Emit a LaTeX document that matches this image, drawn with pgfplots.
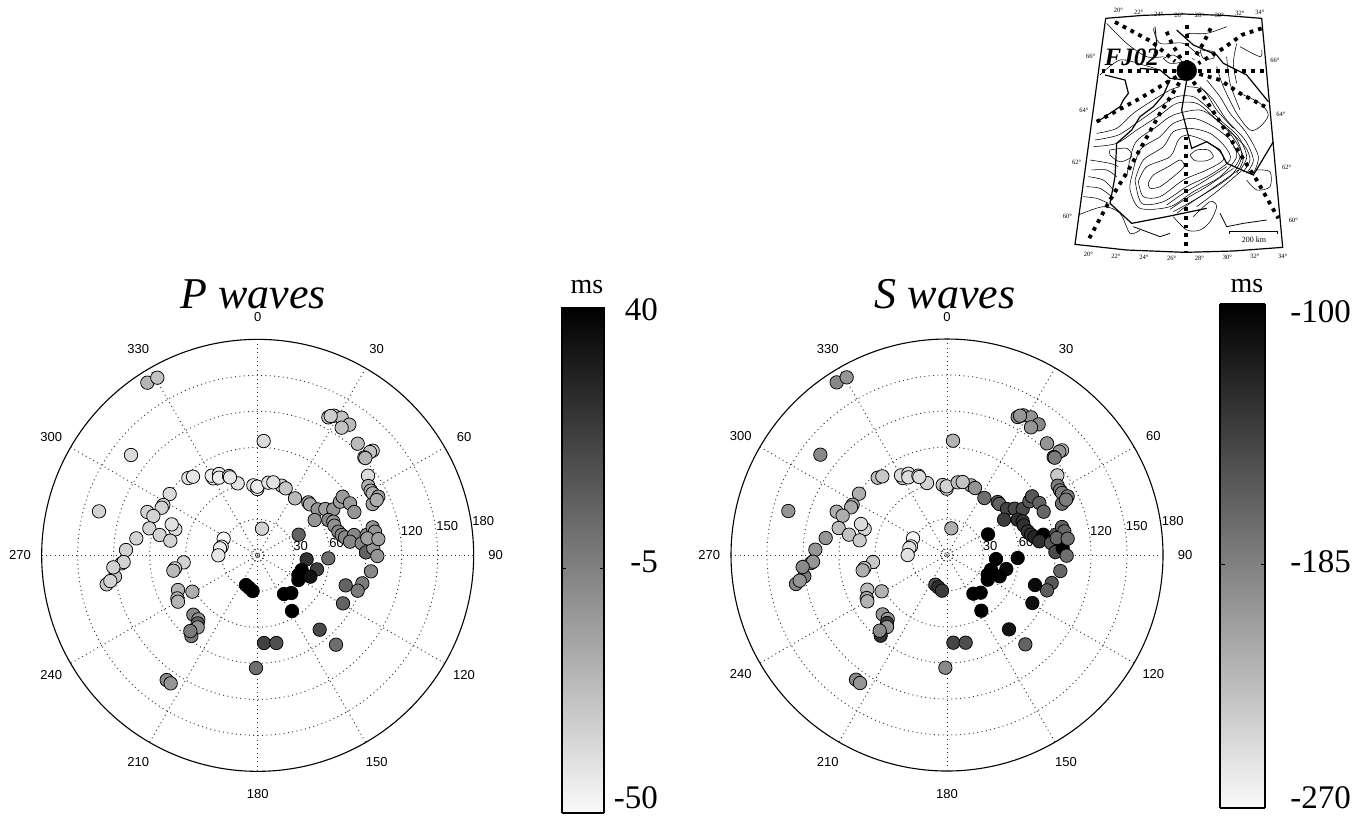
\documentclass[border=0pt]{standalone}
\usepackage{fontspec}
\setmainfont{Liberation Serif}
\newfontfamily\helv{Liberation Sans}
\usepackage{pgfplots}
\usepackage{pgfplotstable}
\pgfplotsset{compat=1.18}
\pgfplotstableread{
x y p s
382 248 -25 -194
412 233 -30 -202
333 465 -39 -194
731 423 -39 -222
237 634 -36 -202
925 352 -32 -202
942 347 -32 -202
965 353 -30 -202
988 374 -27 -194
932 348 -34 -202
965 383 -30 -202
1013 431 -27 -202
1058 452 -36 -228
1050 456 -30 -202
1033 472 -23 -176
1036 474 -25 -185
1044 527 -39 -236
1045 558 -23 -185
1052 572 -23 -185
1058 580 -23 -185
1075 590 -18 -185
1058 612 -18 -176
1070 600 -23 -185
449 582 -39 -219
430 615 -36 -210
425 623 -36 -216
382 636 -36 -219
400 648 -36 -219
388 685 -36 -228
419 705 -36 -233
466 688 -39 -244
455 673 -41 -250
451 722 -36 -239
349 715 -36 -202
318 750 -36 -202
305 790 -32 -194
311 786 -36 -202
285 830 -32 -185
280 802 -36 -194
260 853 -32 -194
271 843 -36 -202
505 534 -41 -228
519 530 -43 -236
580 535 -43 -244
575 527 -45 -250
597 522 -45 -253
597 533 -45 -250
627 528 -43 -250
653 550 -41 -244
630 532 -43 -250
700 556 -41 -236
712 567 -45 -239
712 560 -45 -244
745 548 -41 -228
785 557 -36 -219
760 547 -41 -233
797 565 -32 -202
825 595 -27 -176
865 607 -18 -160
870 613 -21 -168
893 628 -14 -148
916 627 -18 -151
940 628 -14 -151
960 605 -18 -160
968 590 -16 -160
990 610 -16 -168
1003 636 -14 -171
884 660 -14 -142
925 660 -9 -134
940 665 -14 -137
943 677 -12 -134
955 695 -9 -134
965 705 -9 -134
975 712 -9 -126
1002 705 -9 -100
990 725 -9 -134
1025 730 -9 -160
1040 705 -14 -160
1058 682 -14 -168
1065 695 -14 -171
1038 757 4 -151
1060 745 -14 -100
1042 715 -18 -171
1075 717 -18 -176
1072 768 -14 -176
726 686 -36 -219
836 704 4 -100
860 778 22 -100
925 775 0 -100
891 808 17 -108
845 810 40 -100
835 825 40 -100
835 840 40 -100
871 830 33 -100
1053 814 -9 -171
1027 850 -5 -160
1013 872 -5 -165
977 856 4 -108
969 910 4 -112
899 989 13 -114
948 1034 0 -168
732 1029 16 -148
769 1029 11 -154
708 1104 0 -194
678 855 40 -151
687 863 40 -134
698 873 40 -142
792 882 40 -100
814 879 40 -100
816 933 40 -100
611 716 -50 -270
605 740 -45 -262
600 745 -45 -253
595 766 -43 -253
491 787 -36 -236
465 805 -36 -233
460 812 -27 -219
474 870 -25 -228
517 875 -23 -222
472 895 -23 -210
474 905 -25 -222
520 944 -9 -202
535 958 -14 -205
533 970 4 -142
533 982 -14 -202
514 1008 -5 -134
511 993 -5 -194
440 1140 -9 -194
452 1150 -14 -202
}\wavedata
\newcommand{\polarbg}{%
\draw[black,line width=1.1pt] (axis cs:713,766) circle[radius=216pt];
\begin{scope}[black!80,line width=0.95pt,dash pattern=on 0.95pt off 3.4pt]
\draw (axis cs:713,766) circle[radius=36pt];
\draw (axis cs:713,766) circle[radius=72pt];
\draw (axis cs:713,766) circle[radius=108pt];
\draw (axis cs:713,766) circle[radius=144pt];
\draw (axis cs:713,766) circle[radius=180pt];
\draw[dash pattern=on 0.9pt off 1.9pt] (axis cs:713,766) circle[radius=6pt];
\draw (axis cs:65,766) -- (axis cs:1361,766);
\draw (axis cs:713,118) -- (axis cs:713,1414);
\draw (axis cs:389,205) -- (axis cs:1037,1327);
\draw (axis cs:1037,205) -- (axis cs:389,1327);
\draw (axis cs:152,442) -- (axis cs:1274,1090);
\draw (axis cs:1274,442) -- (axis cs:152,1090);
\end{scope}
\fill (axis cs:713,766) circle[radius=0.9pt];
\begin{scope}[every node/.style={font=\helv\fontsize{13}{13}\selectfont,inner sep=0pt,fill=none}]
\node at (axis cs:713,52) {0};
\node at (axis cs:1070,148) {30};
\node at (axis cs:1332,410) {60};
\node at (axis cs:1427,766) {90};
\node at (axis cs:1332,1124) {120};
\node at (axis cs:1070,1386) {150};
\node at (axis cs:713,1482) {180};
\node at (axis cs:355,1386) {210};
\node at (axis cs:94,1124) {240};
\node at (axis cs:0,766) {270};
\node at (axis cs:94,410) {300};
\node at (axis cs:355,148) {330};
\node at (axis cs:842,738) {30};
\node at (axis cs:950,728) {60};
\node at (axis cs:1175,693) {120};
\node at (axis cs:1282,678) {150};
\node at (axis cs:1390,663) {180};
\end{scope}}
\pgfplotsset{
 colormap={wb}{gray(0cm)=(0.98); gray(1cm)=(0)},
 panel/.style={hide axis,scale only axis,width=500pt,height=510pt,clip=false,y dir=reverse,
   colormap name=wb},
 pts/.style={scatter,only marks,mark=*,mark size=6.7pt,scatter src=explicit,
   mark options={line width=0.75pt,draw=black},
   scatter/use mapped color={draw=black,fill=mapped color}},
 cbar/.style={scale only axis,xmin=0,xmax=1,clip=false,xtick=\empty,ytick=\empty,view={0}{90},
   colormap name=wb,axis on top,axis line style={line width=1.1pt}},
 mapbase/.style={hide axis,scale only axis,width=250pt,height=270pt,xmin=0,xmax=750,ymin=0,ymax=810,
   y dir=reverse,clip=false},
 ct/.style={black,line width=0.55pt,smooth,no marks},
 th/.style={black,line width=1.2pt,no marks},
 dd/.style={black,line width=3.8pt,dash pattern=on 3.8pt off 5pt,no marks},
}
\begin{document}
\begin{tikzpicture}[x=1pt,y=1pt]
\path[use as bounding box] (0,0) rectangle (1364pt,-815pt);
% P panel
\begin{axis}[panel,at={(20pt,-300pt)},anchor=north west,xmin=0,xmax=1500,ymin=0,ymax=1530,
  point meta min=-50,point meta max=40]
\polarbg
\addplot[pts] table[x=x,y=y,meta=p]{\wavedata};
\end{axis}
% S panel
\begin{axis}[panel,at={(700pt,-300pt)},anchor=north west,xmin=-28,xmax=1472,ymin=1,ymax=1531,
  point meta min=-270,point meta max=-100]
\polarbg
\addplot[pts] table[x=x,y=y,meta=s]{\wavedata};
\end{axis}
% colour bars
\begin{axis}[cbar,at={(562pt,-813pt)},anchor=south west,width=42pt,height=506pt,ymin=-50,ymax=40,
  point meta min=-50,point meta max=40]
\addplot3[surf,shader=interp,point meta=y,mesh/rows=2,mesh/cols=2] coordinates {(0,-50,0)(1,-50,0)

(0,40,0)(1,40,0)};
\draw[line width=0.7pt] (axis cs:0,-6.4) -- (axis cs:0.1,-6.4);
\draw[line width=0.7pt] (axis cs:0.9,-6.4) -- (axis cs:1,-6.4);
\end{axis}
\begin{axis}[cbar,at={(1220pt,-808pt)},anchor=south west,width=45pt,height=504pt,ymin=-270,ymax=-100,
  point meta min=-270,point meta max=-100]
\addplot3[surf,shader=interp,point meta=y,mesh/rows=2,mesh/cols=2] coordinates {(0,-270,0)(1,-270,0)

(0,-100,0)(1,-100,0)};
\draw[line width=0.7pt] (axis cs:0,-187.7) -- (axis cs:0.1,-187.7);
\draw[line width=0.7pt] (axis cs:0.9,-187.7) -- (axis cs:1,-187.7);
\end{axis}
% map
\begin{axis}[mapbase,at={(1060pt,0pt)},anchor=north west]
\addplot[ct] coordinates {(390,465)(410,450)(445,450)(460,470)(440,482)(405,482)(390,465)};
\addplot[ct] coordinates {(265,550)(280,525)(325,500)(360,480)(372,500)(340,530)(300,560)(270,565)(265,550)};
\addplot[ct] coordinates {(235,545)(260,500)(330,470)(355,420)(380,405)(430,420)(475,450)(490,480)(440,510)(370,540)(300,590)(250,590)(235,545)};
\addplot[ct] coordinates {(225,540)(250,480)(310,440)(340,395)(390,385)(450,400)(495,440)(510,480)(450,525)(380,560)(310,605)(245,610)(225,540)};
\addplot[ct] coordinates {(215,530)(240,450)(300,410)(340,370)(400,355)(460,380)(510,420)(530,470)(480,530)(400,575)(330,620)(240,625)(210,570)(215,530)};
\addplot[ct] coordinates {(200,530)(225,430)(290,380)(340,345)(420,330)(470,360)(525,410)(545,470)(510,530)(420,590)(340,635)};
\addplot[ct] coordinates {(500,500)(430,545)(370,580)(320,615)};
\addplot[ct] coordinates {(520,505)(440,560)(380,595)(330,628)};
\addplot[ct] coordinates {(535,510)(450,570)(390,610)(350,640)};
\addplot[ct] coordinates {(545,512)(470,575)(410,620)};
\addplot[ct] coordinates {(520,440)(540,470)(525,500)};
\addplot[ct] coordinates {(505,390)(555,440)(570,480)(550,515)};
\addplot[ct] coordinates {(380,260)(430,270)(470,330)(520,385)};
\addplot[ct] coordinates {(95,510)(140,510)(170,530)};
\addplot[ct] coordinates {(85,530)(130,540)(160,570)};
\addplot[ct] coordinates {(80,560)(120,565)(155,590)};
\addplot[ct] coordinates {(70,590)(110,595)(145,610)};
\addplot[ct] coordinates {(110,400)(170,385)(220,340)(280,300)(330,270)(360,260)};
\addplot[ct] coordinates {(105,420)(175,405)(235,365)(300,320)(350,290)(400,290)(440,320)(480,360)(535,410)(560,470)(540,510)};
\addplot[ct] coordinates {(100,440)(170,430)(230,390)(300,345)(350,310)(410,310)(460,350)(510,400)(550,470)(530,520)};
\addplot[ct] coordinates {(420,260)(460,300)(500,360)(555,420)(580,480)(560,520)};
\addplot[ct] coordinates {(440,240)(480,290)(510,340)(560,400)(595,470)(580,520)};
\addplot[ct] coordinates {(470,200)(490,260)(530,340)(570,390)(600,380)(625,345)(600,310)(540,280)};
\addplot[ct] coordinates {(500,170)(510,250)(540,330)};
\addplot[ct] coordinates {(530,130)(520,190)(530,250)};
\addplot[ct] coordinates {(540,140)(600,170)(605,150)};
\addplot[ct] coordinates {(55,645)(130,620)(180,640)(210,700)(240,690)};
\addplot[ct] coordinates {(400,650)(450,605)(470,620)(450,665)(420,690)(380,690)(340,650)};
\addplot[ct] coordinates {(590,510)(630,515)(630,560)(590,570)(560,540)};
\addplot[ct] coordinates {(140,70)(200,130)(260,170)(310,170)};
\addplot[ct] coordinates {(120,225)(180,180)(250,195)(300,210)};
\addplot[ct] coordinates {(310,175)(340,165)(365,185)(330,190)(310,175)};
\addplot[ct] coordinates {(280,85)(300,130)(370,130)(420,170)};
\addplot[ct] coordinates {(420,150)(460,155)(460,175)(430,175)(420,150)};
\addplot[ct] coordinates {(150,450)(200,445)(215,470)(180,485)(150,465)(150,450)};
\addplot[ct] coordinates {(380,100)(440,100)(500,80)};
\addplot[ct] coordinates {(90,480)(150,490)(175,500)};
\addplot[th] coordinates {(137,55)(250,46)(370,42)(490,46)(605,55)(668,742)(520,753)(375,757)(200,750)(45,733)(137,55)};
\addplot[th] coordinates {(330,240)(310,285)(280,320)(240,350)(215,390)(170,430)(165,530)(150,610)(215,670)(320,650)(440,625)};
\addplot[th] coordinates {(135,225)(195,240)(205,280)(190,300)(180,320)(120,360)};
\addplot[th] coordinates {(240,205)(300,210)(330,235)(380,240)};
\addplot[th] coordinates {(350,90)(400,135)(470,165)(490,190)(560,225)(625,305)};
\addplot[th] coordinates {(380,240)(365,330)(395,445)(440,425)(480,450)(500,490)(580,525)(640,425)};
\addplot[th,line width=0.8pt] coordinates {(220,680)(300,710)(330,700)};
\addplot[th,line width=0.8pt] coordinates {(480,640)(500,680)(550,670)(620,660)};
\addplot[th,line width=0.8pt] coordinates {(285,80)(290,130)(280,170)};
\addplot[dd] coordinates {(125,212)(615,212)};
\addplot[dd] coordinates {(380,75)(380,212)};
\addplot[dd] coordinates {(378,410)(378,755)};
\addplot[dd] coordinates {(165,66)(275,125)(345,184)};
\addplot[dd] coordinates {(320,95)(335,130)(362,175)};
\addplot[dd] coordinates {(452,85)(430,130)(400,178)};
\addplot[dd] coordinates {(605,85)(545,105)(490,145)(415,190)};
\addplot[dd] coordinates {(418,222)(480,240)(540,280)(615,320)};
\addplot[dd] coordinates {(400,245)(430,290)(470,350)(520,430)(590,540)(655,655)};
\addplot[dd] coordinates {(350,230)(240,295)(110,365)};
\addplot[dd] coordinates {(358,248)(300,340)(250,430)(205,510)(150,600)(85,720)};
\addplot[only marks,mark=*,mark size=10pt,black] coordinates {(380,212)};
\addplot[black,line width=0.6pt,no marks] coordinates {(508,702)(508,693)(652,693)(652,702)};
\node[font=\fontsize{8}{8}\selectfont] at (axis cs:582,720) {200 km};
\node[font=\bfseries\itshape\fontsize{25}{25}\selectfont] at (axis cs:215,172) {FJ02};
\begin{scope}[every node/.style={font=\fontsize{6.5}{6.5}\selectfont,inner sep=0pt}]
\node at (axis cs:175,30) {20°}; \node at (axis cs:236,37) {22°}; \node at (axis cs:296,43) {24°};
\node at (axis cs:357,46) {26°}; \node at (axis cs:418,46) {28°}; \node at (axis cs:478,45) {30°};
\node at (axis cs:540,41) {32°}; \node at (axis cs:600,36) {34°};
\node at (axis cs:85,762) {20°}; \node at (axis cs:168,768) {22°}; \node at (axis cs:252,773) {24°};
\node at (axis cs:335,775) {26°}; \node at (axis cs:418,775) {28°}; \node at (axis cs:502,773) {30°};
\node at (axis cs:585,768) {32°}; \node at (axis cs:668,768) {34°};
\node at (axis cs:92,170) {66°}; \node at (axis cs:72,330) {64°}; \node at (axis cs:50,488) {62°}; \node at (axis cs:22,648) {60°};
\node at (axis cs:645,182) {66°}; \node at (axis cs:663,342) {64°}; \node at (axis cs:680,503) {62°}; \node at (axis cs:700,662) {60°};
\end{scope}
\end{axis}
% texts
\node[font=\itshape\fontsize{44}{44}\selectfont,anchor=base] at (253pt,-308pt) {P waves};
\node[font=\itshape\fontsize{44}{44}\selectfont,anchor=base] at (945pt,-308pt) {S waves};
\node[font=\fontsize{28}{28}\selectfont,anchor=base] at (587pt,-293pt) {ms};
\node[font=\fontsize{28}{28}\selectfont,anchor=base] at (1247pt,-292pt) {ms};
\begin{scope}[every node/.style={font=\fontsize{33}{33}\selectfont,inner sep=0pt,anchor=base east}]
\node at (658pt,-320pt) {40};
\node at (658pt,-572pt) {-5};
\node at (658pt,-808pt) {-50};
\node at (1351pt,-322pt) {-100};
\node at (1351pt,-572pt) {-185};
\node at (1351pt,-808pt) {-270};
\end{scope}
\end{tikzpicture}
\end{document}
